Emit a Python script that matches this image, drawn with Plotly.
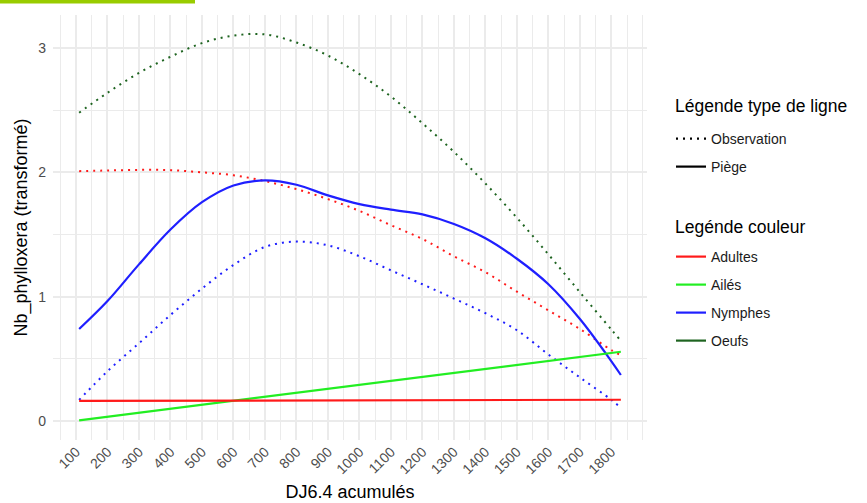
import plotly.graph_objects as go

# ---------------- data ----------------
dj = [110, 200, 300, 400, 500, 600, 700, 800, 900, 1000, 1100, 1200, 1300,
      1400, 1500, 1600, 1700, 1800, 1830]

oeufs_obs = [2.48, 2.64, 2.80, 2.93, 3.04, 3.10, 3.11, 3.045, 2.94, 2.79, 2.61,
             2.395, 2.165, 1.91, 1.635, 1.34, 1.036, 0.735, 0.645]
adultes_obs = [2.01, 2.015, 2.02, 2.018, 2.0, 1.977, 1.93, 1.865, 1.785, 1.69,
               1.575, 1.464, 1.325, 1.197, 1.04, 0.89, 0.74, 0.57, 0.53]
nymphes_obs = [0.17, 0.40, 0.625, 0.853, 1.065, 1.255, 1.40, 1.443, 1.413,
               1.325, 1.212, 1.10, 0.985, 0.867, 0.73, 0.535, 0.35, 0.17, 0.105]
nymphes_piege = [0.74, 0.965, 1.26, 1.54, 1.76, 1.895, 1.935, 1.90, 1.815, 1.745,
                 1.70, 1.662, 1.585, 1.47, 1.305, 1.10, 0.82, 0.48, 0.37]

dj_lin = [110, 1830]
ailes_piege = [0.005, 0.557]
adultes_piege = [0.161, 0.171]

x_ticks = list(range(100, 1900, 100))
x_minor = list(range(50, 1950, 100)) + [1900]
y_ticks = [0, 1, 2, 3]
y_minor = [0.5, 1.5, 2.5]

colors = {"Adultes": "#FF1A1A", "Ailés": "#22EE22", "Nymphes": "#1F1FFF",
          "Oeufs": "#1E6420"}

FONT = "Liberation Sans, Arial, sans-serif"
DOT = "2px,5px"

fig = go.Figure()

def add_line(x, y, color, dotted):
    fig.add_trace(go.Scatter(
        x=x, y=y, mode="lines", showlegend=False, hoverinfo="skip",
        line=dict(color=color, width=2.0 if dotted else 2.2,
                  dash=DOT if dotted else "solid", shape="spline"),
    ))

add_line(dj, oeufs_obs, colors["Oeufs"], True)
add_line(dj, adultes_obs, colors["Adultes"], True)
add_line(dj, nymphes_obs, colors["Nymphes"], True)
add_line(dj, nymphes_piege, colors["Nymphes"], False)
add_line(dj_lin, ailes_piege, colors["Ailés"], False)
add_line(dj_lin, adultes_piege, colors["Adultes"], False)

# ---------------- legends (one single-entry legend per row) ----------------
L, R, T, B = 53, 220, 15, 63
W, H = 867 - L - R, 503 - T - B

def px_x(p):
    return (p - L) / W

def px_y(p):
    return (503 - B - p) / H

entries = [
    ("Observation", "black", DOT, 139),
    ("Piège", "black", "solid", 167),
    ("Adultes", colors["Adultes"], "solid", 257),
    ("Ailés", colors["Ailés"], "solid", 285),
    ("Nymphes", colors["Nymphes"], "solid", 313),
    ("Oeufs", colors["Oeufs"], "solid", 341),
]

legend_layout = {}
for i, (name, col, dash, ypix) in enumerate(entries):
    key = "legend" if i == 0 else f"legend{i + 1}"
    fig.add_trace(go.Scatter(
        x=[None], y=[None], mode="lines", name=name, legend=key,
        line=dict(color=col, width=2.2, dash=dash),
    ))
    legend_layout[key] = dict(
        x=px_x(671), xanchor="left", y=px_y(ypix), yanchor="middle",
        bgcolor="rgba(0,0,0,0)", borderwidth=0,
        font=dict(family=FONT, size=14, color="#1a1a1a"),
        itemwidth=30,
    )

fig.add_annotation(text="Légende type de ligne", xref="paper", yref="paper",
                   x=px_x(673), y=px_y(106), xanchor="left", yanchor="middle",
                   showarrow=False, font=dict(family=FONT, size=17.5, color="black"))
fig.add_annotation(text="Legénde couleur", xref="paper", yref="paper",
                   x=px_x(673), y=px_y(227), xanchor="left", yanchor="middle",
                   showarrow=False, font=dict(family=FONT, size=17.5, color="black"))

# cropping artefact (yellow-green bar at the top-left)
fig.add_shape(type="rect", xref="paper", yref="paper",
              x0=px_x(0), x1=px_x(195), y0=px_y(3.5), y1=px_y(0),
              fillcolor="#99CC00", line=dict(width=0), layer="above")

GRID = "#EBEBEB"
fig.update_layout(
    width=867, height=503,
    margin=dict(l=L, r=R, t=T, b=B, autoexpand=False),
    paper_bgcolor="white", plot_bgcolor="white",
    font=dict(family=FONT, color="black"),
    xaxis=dict(
        range=[27, 1913], tickvals=x_ticks, ticktext=[str(v) for v in x_ticks],
        tickangle=-45, showgrid=True, gridcolor=GRID, gridwidth=1.5,
        zeroline=False, showline=False, ticks="", automargin=False,
        tickfont=dict(family=FONT, size=14, color="#4D4D4D"),
        minor=dict(tickvals=x_minor, showgrid=True, gridcolor=GRID, gridwidth=1.0),
        title=dict(text="DJ6.4 acumulés", font=dict(family=FONT, size=18, color="black"),
                   standoff=9),
    ),
    yaxis=dict(
        range=[-0.153, 3.266], tickvals=y_ticks, ticktext=[str(v) for v in y_ticks],
        showgrid=True, gridcolor=GRID, gridwidth=1.5,
        zeroline=False, showline=False, ticks="", automargin=False,
        tickfont=dict(family=FONT, size=14, color="#4D4D4D"),
        ticklabelstandoff=6,
        minor=dict(tickvals=y_minor, showgrid=True, gridcolor=GRID, gridwidth=1.0),
        title=dict(text="Nb_phylloxera (transformé)",
                   font=dict(family=FONT, size=18, color="black"), standoff=5),
    ),
    **legend_layout,
)

fig.write_html("out.html", config={"displayModeBar": False},
               post_script="document.body.style.margin='0';document.body.style.padding='0';")
